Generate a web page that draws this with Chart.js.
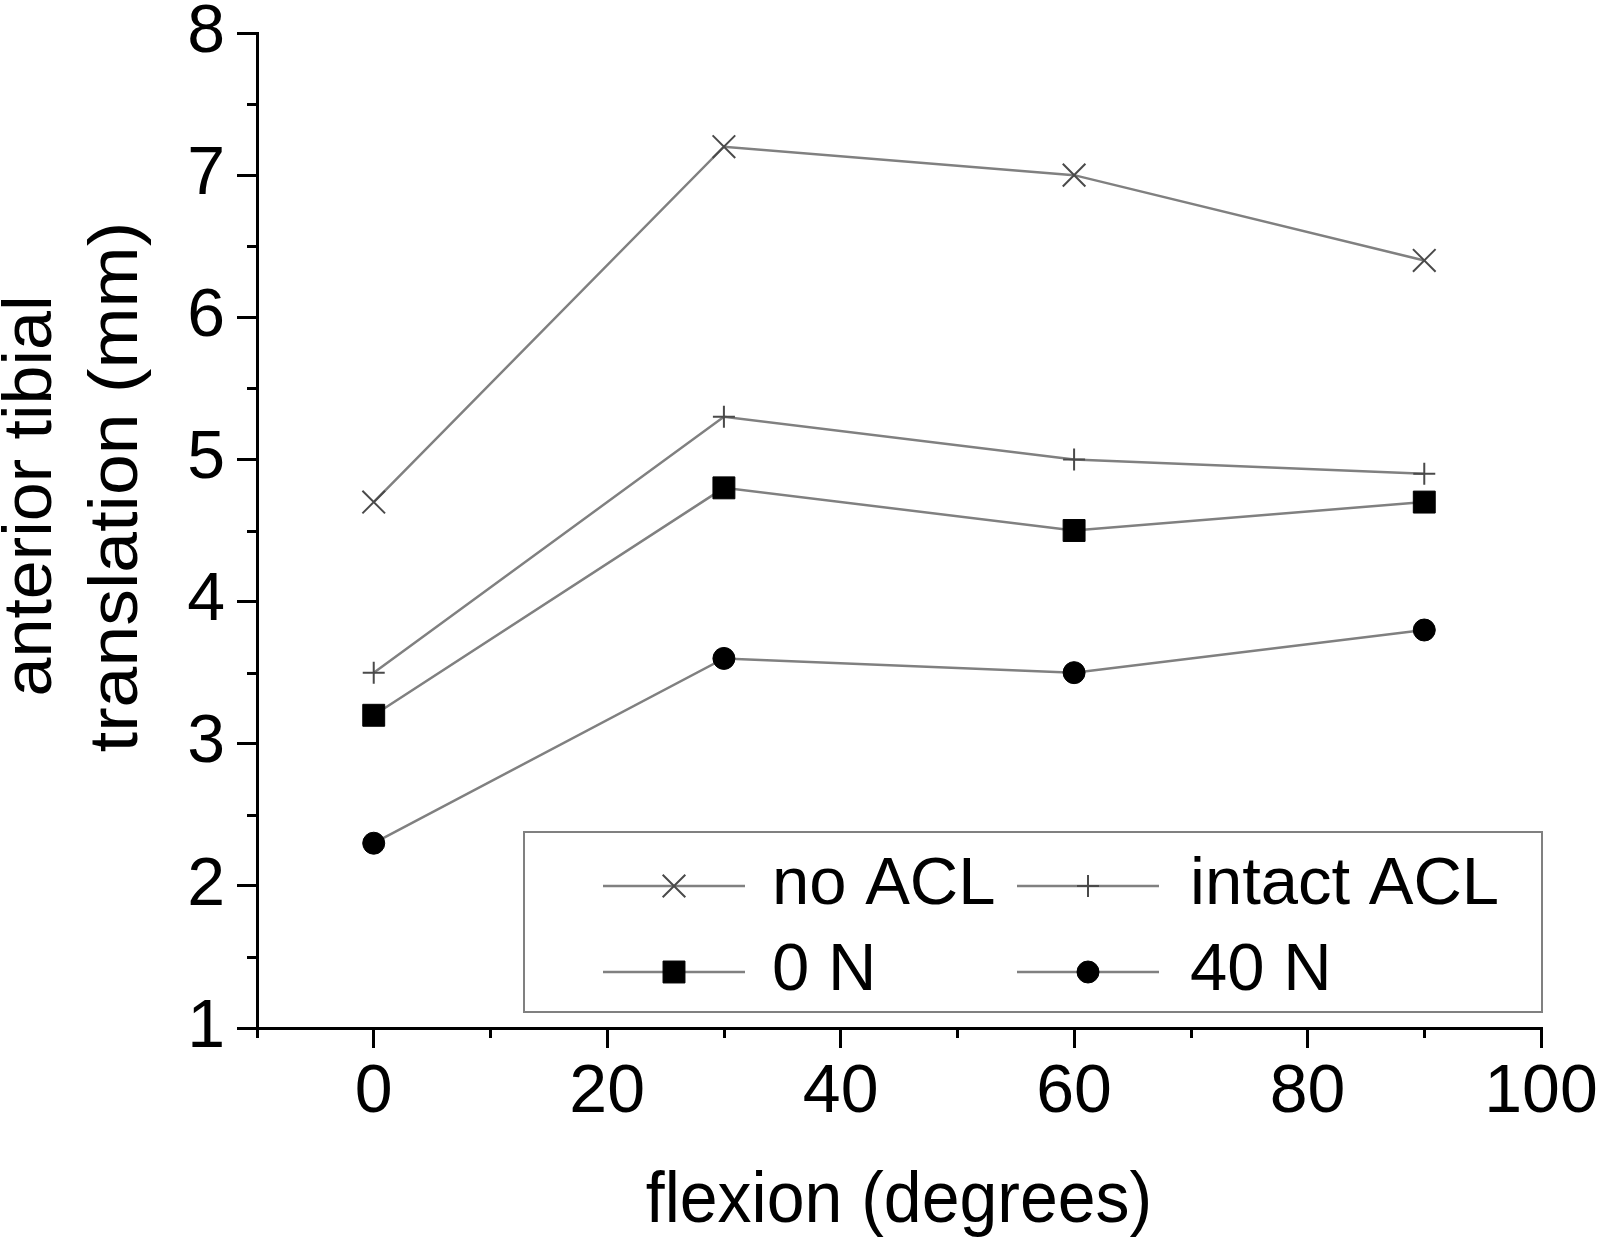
<!DOCTYPE html>
<html><head><meta charset="utf-8">
<script src="https://cdn.jsdelivr.net/npm/chart.js@4/dist/chart.umd.min.js"></script>
<style>html,body{margin:0;padding:0;background:#fff;overflow:hidden}#wrap{width:1599px;height:1238px}</style>
</head><body><div id="wrap"><canvas id="c" width="1599" height="1238"></canvas></div>
<script>
const flexion = [0, 30, 60, 90];
const noACL = [4.7, 7.2, 7.0, 6.4];
const intactACL = [3.5, 5.3, 5.0, 4.9];
const load0N = [3.2, 4.8, 4.5, 4.7];
const load40N = [2.3, 3.6, 3.5, 3.8];
const seriesNames = ['no ACL', 'intact ACL', '0 N', '40 N'];
const xTicks = [0, 20, 40, 60, 80, 100];
const yTicks = [1, 2, 3, 4, 5, 6, 7, 8];
const xMinorTicks = [-10, 10, 30, 50, 70, 90];
const yMinorTicks = [1.5, 2.5, 3.5, 4.5, 5.5, 6.5, 7.5];
const xTitle = 'flexion (degrees)';
const yTitle = ['anterior tibial', 'translation (mm)'];

const FONT = '"Liberation Sans", Arial, Helvetica, sans-serif';
const LINE = '#808080';
const pts = arr => flexion.map((x, i) => ({x: x, y: arr[i]}));

const styles = [
  {pointStyle: 'crossRot', pointRadius: 16, pointBorderColor: '#4a4a4a', pointBackgroundColor: '#4a4a4a', pointBorderWidth: 2},
  {pointStyle: 'cross', pointRadius: 11, pointBorderColor: '#4a4a4a', pointBackgroundColor: '#4a4a4a', pointBorderWidth: 2},
  {pointStyle: 'rect', pointRadius: 15.5, pointBorderColor: '#000', pointBackgroundColor: '#000', pointBorderWidth: 1},
  {pointStyle: 'circle', pointRadius: 11, pointBorderColor: '#000', pointBackgroundColor: '#000', pointBorderWidth: 1}
];
const seriesValues = [noACL, intactACL, load0N, load40N];
const datasets = seriesValues.map((v, i) => Object.assign({
  label: seriesNames[i], data: pts(v), borderColor: LINE, borderWidth: 2.5,
  fill: false, tension: 0, pointHoverRadius: styles[i].pointRadius
}, styles[i]));

const minorTicksPlugin = {
  id: 'minorTicks',
  afterDraw(chart) {
    const ctx = chart.ctx, xs = chart.scales.x, ys = chart.scales.y;
    ctx.save();
    ctx.strokeStyle = '#000'; ctx.lineWidth = 3; ctx.lineCap = 'butt';
    ctx.beginPath();
    yMinorTicks.forEach(v => { const p = Math.round(ys.getPixelForValue(v)) + 0.5; ctx.moveTo(xs.left, p); ctx.lineTo(xs.left - 10, p); });
    xMinorTicks.forEach(v => { const p = Math.round(xs.getPixelForValue(v)) + 0.5; ctx.moveTo(p, ys.bottom); ctx.lineTo(p, ys.bottom + 10); });
    ctx.stroke();
    ctx.restore();
  }
};

const titlesPlugin = {
  id: 'axisTitles',
  afterDraw(chart) {
    const ctx = chart.ctx, a = chart.chartArea;
    ctx.save();
    ctx.fillStyle = '#000';
    ctx.font = '68px ' + FONT;
    ctx.textAlign = 'center'; ctx.textBaseline = 'alphabetic';
    ctx.save();
    ctx.translate((a.left + a.right) / 2, 1222);
    ctx.scale(1, 1.06);
    ctx.fillText(xTitle, 0, 0);
    ctx.restore();
    const ys = [496, 487], xs = [51, 137], stretch = [1.03, 1.08];
    yTitle.forEach((t, i) => {
      ctx.save();
      ctx.translate(xs[i], ys[i]);
      ctx.rotate(-Math.PI / 2);
      ctx.scale(stretch[i], 1);
      ctx.fillText(t, 0, 0);
      ctx.restore();
    });
    ctx.restore();
  }
};

const legendPlugin = {
  id: 'boxLegend',
  afterDraw(chart) {
    const ctx = chart.ctx;
    ctx.save();
    ctx.strokeStyle = '#808080'; ctx.lineWidth = 2;
    ctx.fillStyle = '#fff';
    ctx.fillRect(524, 832, 1018, 180);
    ctx.strokeRect(524, 832, 1018, 180);
    const lineX = [603, 1017], textX = [772, 1190], rowY = [886, 972], len = 142;
    chart.data.datasets.forEach((ds, i) => {
      const c = i % 2, r = Math.floor(i / 2);
      const x0 = lineX[c], y = rowY[r];
      ctx.strokeStyle = ds.borderColor; ctx.lineWidth = ds.borderWidth;
      ctx.beginPath(); ctx.moveTo(x0, y); ctx.lineTo(x0 + len, y); ctx.stroke();
      ctx.strokeStyle = ds.pointBorderColor; ctx.fillStyle = ds.pointBackgroundColor; ctx.lineWidth = ds.pointBorderWidth;
      Chart.helpers.drawPoint(ctx, {pointStyle: ds.pointStyle, radius: ds.pointRadius, borderWidth: ds.pointBorderWidth, rotation: 0}, x0 + len / 2, y);
      ctx.fillStyle = '#000';
      ctx.font = '67px ' + FONT;
      ctx.textAlign = 'left'; ctx.textBaseline = 'middle';
      ctx.fillText(ds.label, textX[c], y);
    });
    ctx.restore();
  }
};

new Chart(document.getElementById('c'), {
  type: 'line',
  data: {datasets: datasets},
  plugins: [minorTicksPlugin, titlesPlugin, legendPlugin],
  options: {
    responsive: false, animation: false, devicePixelRatio: 1,
    layout: {padding: {left: 0, top: 33, right: 58, bottom: 0}},
    plugins: {legend: {display: false}, tooltip: {enabled: false}, title: {display: false}},
    scales: {
      x: {
        type: 'linear', min: -10, max: 100,
        afterBuildTicks: s => { s.ticks = xTicks.map(v => ({value: v})); },
        afterFit: s => { s.height = 210; },
        grid: {drawOnChartArea: false, drawTicks: true, tickLength: 20, tickWidth: 3, tickColor: '#000', color: '#000', lineWidth: 3},
        border: {display: true, color: '#000', width: 3},
        ticks: {color: '#000', padding: 0, maxRotation: 0, autoSkip: false, font: {family: FONT, size: 68, lineHeight: 1.32}},
        title: {display: false}
      },
      y: {
        type: 'linear', min: 1, max: 8,
        afterBuildTicks: s => { s.ticks = yTicks.map(v => ({value: v})); },
        afterFit: s => { s.width = 257; },
        grid: {drawOnChartArea: false, drawTicks: true, tickLength: 20, tickWidth: 3, tickColor: '#000', color: '#000', lineWidth: 3},
        border: {display: true, color: '#000', width: 3},
        ticks: {color: '#000', padding: 12, autoSkip: false, font: {family: FONT, size: 68, lineHeight: 0.5}},
        title: {display: false}
      }
    }
  }
});
</script>
</body></html>
